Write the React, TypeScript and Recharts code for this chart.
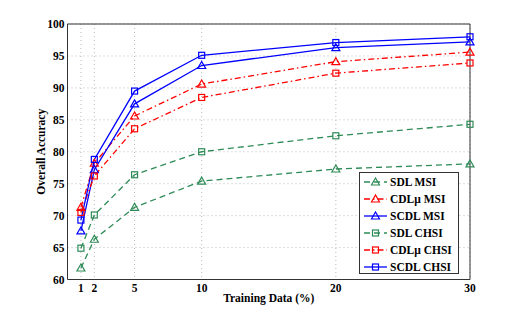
import React from 'react';
import { LineChart, Line, XAxis, YAxis, CartesianGrid, ReferenceLine } from 'recharts';

const xValues = [1, 2, 5, 10, 20, 30];
const sdlMsi = [61.8, 66.3, 71.3, 75.4, 77.3, 78.1];
const cdlMsi = [71.3, 78.2, 85.6, 90.6, 94.1, 95.6];
const scdlMsi = [67.6, 77.2, 87.5, 93.5, 96.3, 97.2];
const sdlChsi = [64.9, 70.1, 76.4, 80.0, 82.5, 84.3];
const cdlChsi = [70.5, 76.2, 83.6, 88.5, 92.3, 93.9];
const scdlChsi = [69.3, 78.8, 89.5, 95.1, 97.1, 98.0];
const xTicks = [1, 2, 5, 10, 20, 30];
const yTicks = [60, 65, 70, 75, 80, 85, 90, 95, 100];

const data = xValues.map((x, i) => ({
  x,
  sdlMsi: sdlMsi[i],
  cdlMsi: cdlMsi[i],
  scdlMsi: scdlMsi[i],
  sdlChsi: sdlChsi[i],
  cdlChsi: cdlChsi[i],
  scdlChsi: scdlChsi[i],
}));

const GREEN = '#2e8b57';
const RED = '#ff0000';
const BLUE = '#0000ff';
const FONT = '"Liberation Serif", "Times New Roman", serif';

const series = [
  { key: 'sdlMsi', name: 'SDL MSI', color: GREEN, dash: '6 4', marker: 'tri' },
  { key: 'cdlMsi', name: 'CDLμ MSI', color: RED, dash: '6 3 1.5 3', marker: 'tri' },
  { key: 'scdlMsi', name: 'SCDL MSI', color: BLUE, dash: undefined, marker: 'tri' },
  { key: 'sdlChsi', name: 'SDL CHSI', color: GREEN, dash: '6 4', marker: 'sq' },
  { key: 'cdlChsi', name: 'CDLμ CHSI', color: RED, dash: '6 3 1.5 3', marker: 'sq' },
  { key: 'scdlChsi', name: 'SCDL CHSI', color: BLUE, dash: undefined, marker: 'sq' },
];

const Marker = ({ cx, cy, color, marker }: any) => {
  if (cx == null || cy == null) return null;
  if (marker === 'tri') {
    return (
      <polygon
        points={`${cx},${cy - 4} ${cx - 4},${cy + 3} ${cx + 4},${cy + 3}`}
        fill="none"
        stroke={color}
        strokeWidth={1.2}
      />
    );
  }
  return <rect x={cx - 3} y={cy - 3} width={6} height={6} fill="none" stroke={color} strokeWidth={1.2} />;
};

const LegendBox = () => (
  <div
    style={{
      position: 'absolute',
      left: 359,
      top: 172,
      width: 100,
      height: 102,
      border: '1px solid #333',
      background: '#fff',
      boxSizing: 'border-box',
      paddingTop: 1,
    }}
  >
    {series.map((s) => (
      <div key={s.key} style={{ display: 'flex', alignItems: 'center', height: 16.9 }}>
        <svg width={27} height={12} style={{ marginLeft: 3 }}>
          <line x1={1} y1={6} x2={24} y2={6} stroke={s.color} strokeWidth={1.3} strokeDasharray={s.dash} />
          <Marker cx={12.5} cy={6} color={s.color} marker={s.marker} />
        </svg>
        <span style={{ fontFamily: FONT, fontWeight: 'bold', fontSize: 11.5, color: '#000', whiteSpace: 'nowrap' }}>
          {s.name}
        </span>
      </div>
    ))}
  </div>
);

const tickStyle = { fontFamily: FONT, fontWeight: 'bold', fontSize: 11.5, fill: '#000' };

export default function App() {
  return (
    <div style={{ position: 'absolute', left: 0, top: 0, width: 519, height: 314, background: '#fff' }}>
      <LineChart width={519} height={314} data={data} margin={{ top: 24, right: 49, bottom: 10.5, left: 37.5 }}>
        <CartesianGrid stroke="#bbb" strokeDasharray="1 3" />
        <XAxis
          dataKey="x"
          type="number"
          domain={[0, 30]}
          ticks={xTicks}
          tickLine={false}
          tickSize={4}
          tickMargin={0}
          height={24}
          stroke="#333"
          tick={tickStyle}
          label={{ value: 'Training Data (%)', position: 'insideBottom', offset: 2, style: { ...tickStyle } }}
        />
        <YAxis
          type="number"
          domain={[60, 100]}
          ticks={yTicks}
          tickLine={false}
          tickSize={0}
          tickMargin={3}
          width={30}
          stroke="#333"
          tick={tickStyle}
          label={{ value: 'Overall Accuracy', angle: -90, position: 'insideLeft', offset: 3, style: { ...tickStyle, textAnchor: 'middle' } }}
        />
        <ReferenceLine y={100} stroke="#333" />
        <ReferenceLine x={30} stroke="#333" />
        {series.map((s) => (
          <Line
            key={s.key}
            dataKey={s.key}
            name={s.name}
            stroke={s.color}
            strokeWidth={1.3}
            strokeDasharray={s.dash}
            isAnimationActive={false}
            dot={(p: any) => <Marker key={`${s.key}-${p.index}`} cx={p.cx} cy={p.cy} color={s.color} marker={s.marker} />}
          />
        ))}
      </LineChart>
      <LegendBox />
    </div>
  );
}
